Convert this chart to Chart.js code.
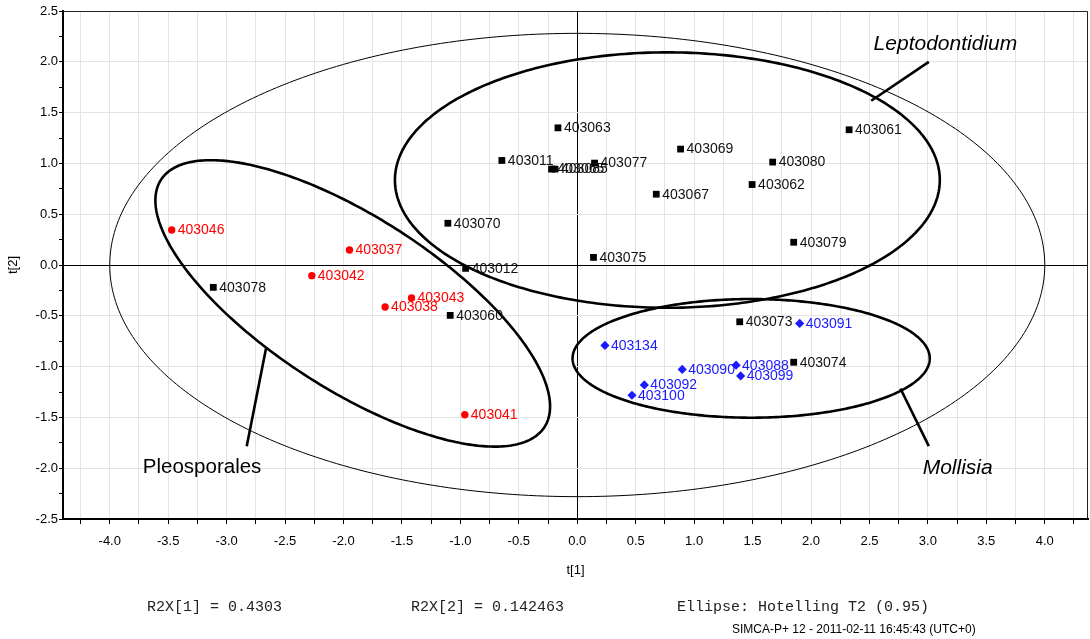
<!DOCTYPE html>
<html>
<head>
<meta charset="utf-8">
<script src="https://cdn.jsdelivr.net/npm/chart.js@4.4.1/dist/chart.umd.min.js"></script>
<style>
  html, body { margin: 0; padding: 0; background: #fff; }
  #wrap { position: relative; width: 1090px; height: 639px; }
  canvas { position: absolute; left: 0; top: 0; }
  .foot { position: absolute; font-family: 'Liberation Mono', 'DejaVu Sans Mono', monospace; font-size: 15px; line-height: 16px; color: #222; white-space: pre; }
  .stamp { position: absolute; font-family: 'Liberation Sans', Arial, sans-serif; font-size: 12px; line-height: 14px; color: #000; white-space: pre; }
</style>
</head>
<body>
<div id="wrap">
  <canvas id="scores" width="1090" height="639"></canvas>
  <div class="foot" style="left:147px; top:600px;">R2X[1] = 0.4303</div>
  <div class="foot" style="left:411px; top:600px;">R2X[2] = 0.142463</div>
  <div class="foot" style="left:677px; top:600px;">Ellipse: Hotelling T2 (0.95)</div>
  <div class="stamp" style="left:732px; top:622px;">SIMCA-P+ 12 - 2011-02-11 16:45:43 (UTC+0)</div>
</div>
<script>
// Score values t[1], t[2] per isolate, one group of arrays per marker class
const squareIds = ['403063', '403011', '403065', '403085', '403077', '403069', '403080', '403062', '403067',
                   '403079', '403061', '403070', '403012', '403078', '403060', '403075', '403073', '403074'];
const squareT1 = [-0.165, -0.645, -0.22, -0.19, 0.148, 0.884, 1.672, 1.496, 0.676,
                  1.852, 2.326, -1.107, -0.955, -3.114, -1.087, 0.139, 1.39, 1.852];
const squareT2 = [1.35, 1.029, 0.944, 0.944, 1.003, 1.141, 1.013, 0.792, 0.697,
                  0.224, 1.331, 0.411, -0.033, -0.22, -0.496, 0.075, -0.559, -0.957];

const circleIds = ['403046', '403037', '403042', '403043', '403038', '403041'];
const circleT1 = [-3.47, -1.949, -2.271, -1.418, -1.644, -0.962];
const circleT2 = [0.345, 0.148, -0.105, -0.325, -0.414, -1.474];

const diamondIds = ['403091', '403134', '403090', '403088', '403099', '403092', '403100'];
const diamondT1 = [1.903, 0.237, 0.898, 1.359, 1.398, 0.574, 0.468];
const diamondT2 = [-0.575, -0.792, -1.028, -0.986, -1.092, -1.18, -1.282];

// Axis tick labels (every 0.5; minor ticks every 0.25 stay unlabeled)
const xTickLabels = ['-4.0', '-3.5', '-3.0', '-2.5', '-2.0', '-1.5', '-1.0', '-0.5', '0.0',
                     '0.5', '1.0', '1.5', '2.0', '2.5', '3.0', '3.5', '4.0'];
const yTickLabels = ['-2.5', '-2.0', '-1.5', '-1.0', '-0.5', '0.0', '0.5', '1.0', '1.5', '2.0', '2.5'];

// Hotelling T2 ellipse and the hand-drawn group outlines (centre + two half-axis vectors, t[1]/t[2] units)
const outlines = [
  { cx: 0, cy: 0, ux: 4.0, uy: 0, vx: 0, vy: 2.28, width: 1 },
  { cx: 0.771, cy: 0.836, ux: 2.331, uy: 0, vx: 0, vy: 1.257, width: 2.6 },
  { cx: 1.488, cy: -0.919, ux: 1.528, uy: 0, vx: 0, vy: 0.584, width: 2.6 },
  { cx: -1.921, cy: -0.378, ux: 1.641, uy: -1.216, vx: -0.398, vy: -0.713, width: 2.6 }
];
const pointers = [
  [3.008, 1.999, 2.515, 1.617],
  [-2.663, -0.821, -2.828, -1.785],
  [2.765, -1.216, 3.008, -1.782]
];
const groupNames = [
  { text: 'Leptodontidium', x: 3.15, y: 2.12, italic: true, size: 21 },
  { text: 'Pleosporales', x: -3.21, y: -2.051, italic: false, size: 20.5 },
  { text: 'Mollisia', x: 3.255, y: -2.061, italic: true, size: 21 }
];

const FONT = "'Liberation Sans', Arial, sans-serif";

function labelFor(value, labels) {
  const s = (Math.round(value * 10) / 10).toFixed(1);
  const txt = s === '-0.0' ? '0.0' : s;
  const onHalf = Math.abs(value * 2 - Math.round(value * 2)) < 1e-6;
  return onHalf && labels.includes(txt) ? txt : '';
}
const isZero = v => Math.abs(v) < 1e-9;
const isHalf = v => Math.abs(v * 2 - Math.round(v * 2)) < 1e-6;

const toPoints = (xs, ys) => xs.map((v, i) => ({ x: v, y: ys[i] }));

const outlinePlugin = {
  id: 'groupOutlines',
  beforeDatasetsDraw(chart) {
    const { ctx, chartArea: a, scales: { x, y } } = chart;
    ctx.save();
    ctx.beginPath();
    ctx.rect(a.left, a.top, a.right - a.left, a.bottom - a.top);
    ctx.clip();
    ctx.strokeStyle = '#000';
    ctx.lineJoin = 'round';
    for (const e of outlines) {
      ctx.lineWidth = e.width;
      ctx.beginPath();
      for (let k = 0; k <= 360; k++) {
        const t = k * Math.PI / 180;
        const px = x.getPixelForValue(e.cx + e.ux * Math.cos(t) + e.vx * Math.sin(t));
        const py = y.getPixelForValue(e.cy + e.uy * Math.cos(t) + e.vy * Math.sin(t));
        if (k === 0) ctx.moveTo(px, py); else ctx.lineTo(px, py);
      }
      ctx.closePath();
      ctx.stroke();
    }
    ctx.lineWidth = 2.6;
    for (const p of pointers) {
      ctx.beginPath();
      ctx.moveTo(x.getPixelForValue(p[0]), y.getPixelForValue(p[1]));
      ctx.lineTo(x.getPixelForValue(p[2]), y.getPixelForValue(p[3]));
      ctx.stroke();
    }
    ctx.fillStyle = '#000';
    ctx.textAlign = 'center';
    ctx.textBaseline = 'alphabetic';
    for (const g of groupNames) {
      ctx.font = (g.italic ? 'italic ' : '') + g.size + 'px ' + FONT;
      ctx.fillText(g.text, x.getPixelForValue(g.x), y.getPixelForValue(g.y));
    }
    ctx.restore();
  }
};

const pointLabelPlugin = {
  id: 'pointLabels',
  afterDatasetsDraw(chart) {
    const { ctx } = chart;
    ctx.save();
    ctx.font = '14px ' + FONT;
    ctx.textAlign = 'left';
    ctx.textBaseline = 'middle';
    chart.data.datasets.forEach((ds, i) => {
      const meta = chart.getDatasetMeta(i);
      ctx.fillStyle = ds.textColor;
      meta.data.forEach((el, j) => {
        ctx.fillText(ds.ids[j], el.x + 6, el.y + 0.5);
      });
    });
    ctx.restore();
  }
};

const framePlugin = {
  id: 'plotFrame',
  afterDraw(chart) {
    const { ctx, chartArea: a } = chart;
    ctx.save();
    ctx.strokeStyle = '#222';
    ctx.lineWidth = 1;
    ctx.beginPath();
    ctx.moveTo(a.left, a.top + 0.5);
    ctx.lineTo(a.right - 0.5, a.top + 0.5);
    ctx.lineTo(a.right - 0.5, a.bottom);
    ctx.stroke();
    ctx.restore();
  }
};

new Chart(document.getElementById('scores'), {
  type: 'scatter',
  data: {
    datasets: [
      { ids: squareIds, textColor: '#111', data: toPoints(squareT1, squareT2),
        pointStyle: 'rect', pointRadius: 4.8, backgroundColor: '#000', borderWidth: 0 },
      { ids: circleIds, textColor: '#ff0000', data: toPoints(circleT1, circleT2),
        pointStyle: 'circle', pointRadius: 3.7, backgroundColor: '#ff0000', borderWidth: 0 },
      { ids: diamondIds, textColor: '#1a1aff', data: toPoints(diamondT1, diamondT2),
        pointStyle: 'rectRot', pointRadius: 4.6, backgroundColor: '#1a1aff', borderWidth: 0 }
    ]
  },
  options: {
    responsive: false,
    devicePixelRatio: 1,
    animation: false,
    events: [],
    layout: { autoPadding: false, padding: { top: 11, right: 2, bottom: 60, left: 0 } },
    plugins: { legend: { display: false }, tooltip: { enabled: false } },
    scales: {
      x: {
        type: 'linear', min: -4.4, max: 4.37,
        afterFit: s => { s.height = 60; s.paddingLeft = 0; s.paddingRight = 0; },
        ticks: {
          stepSize: 0.25, includeBounds: false, autoSkip: false, maxRotation: 0, padding: 10,
          color: '#000', font: { family: FONT, size: 13 },
          callback: v => labelFor(v, xTickLabels)
        },
        grid: {
          color: c => (c.tick && isZero(c.tick.value)) ? '#000' : '#e4e4e4',
          tickColor: '#000', tickLength: 5, lineWidth: 1
        },
        border: { display: true, color: '#000', width: 2 },
        title: { display: true, text: 't[1]', color: '#000', font: { family: FONT, size: 13 }, padding: { top: 0, bottom: 1 } }
      },
      y: {
        type: 'linear', min: -2.5, max: 2.5,
        afterFit: s => { s.width = 63; },
        ticks: {
          stepSize: 0.25, autoSkip: false, padding: 1,
          color: '#000', font: { family: FONT, size: 13 },
          callback: v => labelFor(v, yTickLabels)
        },
        grid: {
          color: c => {
            const v = c.tick ? c.tick.value : 1;
            if (isZero(v)) return '#000';
            return isHalf(v) ? '#e4e4e4' : 'rgba(0,0,0,0)';
          },
          tickColor: '#000', tickLength: 4, lineWidth: 1
        },
        border: { display: true, color: '#000', width: 2 },
        title: { display: true, text: 't[2]', color: '#000', font: { family: FONT, size: 13 }, padding: { top: 6, bottom: 0 } }
      }
    }
  },
  plugins: [outlinePlugin, pointLabelPlugin, framePlugin]
});
</script>
</body>
</html>
